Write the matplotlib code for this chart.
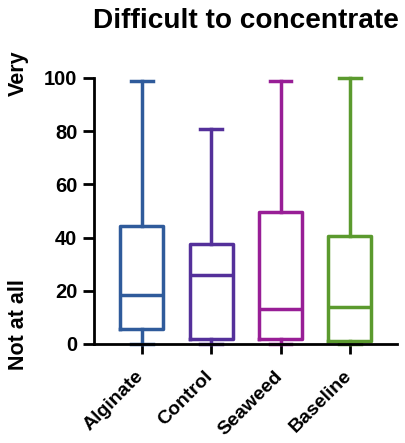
import matplotlib.pyplot as plt
import matplotlib.transforms as mtransforms

plt.rcParams['font.family'] = ['Liberation Sans', 'DejaVu Sans']
plt.rcParams['font.weight'] = 'bold'

# Gruppen und Boxplot-Kennwerte (Min, Q1, Median, Q3, Max)
groups = ['Alginate', 'Control', 'Seaweed', 'Baseline']
whislo = [0, 0, 0, 0]
q1 = [5.5, 2, 2, 1]
med = [18.5, 26, 13, 14]
q3 = [44.5, 37.5, 49.5, 40.5]
whishi = [99, 81, 99, 100]
colors = ['#2f5b9b', '#54309a', '#981e96', '#5b9a2e']

stats = []
for i, g in enumerate(groups):
    stats.append({'label': g, 'whislo': whislo[i], 'q1': q1[i], 'med': med[i],
                  'q3': q3[i], 'whishi': whishi[i], 'fliers': []})

fig = plt.figure(figsize=(4.06, 4.43), dpi=100)
ax = fig.add_axes([0.2315, 0.2235, 0.7465, 0.6005])

bp = ax.bxp(stats, positions=[1, 2, 3, 4], widths=0.62, showfliers=False,
            patch_artist=False)
lw = 2.5
for i, c in enumerate(colors):
    bp['boxes'][i].set(color=c, linewidth=lw, clip_on=False)
    bp['medians'][i].set(color=c, linewidth=lw, clip_on=False)
    for k in (2 * i, 2 * i + 1):
        bp['whiskers'][k].set(color=c, linewidth=lw, clip_on=False)
        bp['caps'][k].set(color=c, linewidth=lw, clip_on=False)

ax.set_xlim(0.31, 4.68)
ax.set_ylim(0, 100)
ax.set_yticks([0, 20, 40, 60, 80, 100])
ax.set_xticks([1, 2, 3, 4])
ax.set_xticklabels(groups, rotation=45, ha='right', rotation_mode='anchor',
                   fontsize=14, fontweight='bold')
ax.tick_params(axis='y', labelsize=14.5, width=2, length=8, pad=4)
ax.tick_params(axis='x', width=2, length=7, pad=5)

# x-Beschriftungen etwas nach links unten schieben
shift = mtransforms.ScaledTranslation(-7 / 100, -7 / 100, fig.dpi_scale_trans)
for lab in ax.get_xticklabels():
    lab.set_transform(lab.get_transform() + shift)

for s in ['top', 'right']:
    ax.spines[s].set_visible(False)
for s in ['left', 'bottom']:
    ax.spines[s].set_linewidth(2)

# Titel und zweiteilige y-Beschriftung
fig.text(0.606, 0.953, 'Difficult to concentrate', ha='center', va='center',
         fontsize=20.2, fontweight='bold')
fig.text(0.045, 0.834, 'Very', rotation=90, ha='center', va='center',
         fontsize=15.5, fontweight='bold')
fig.text(0.045, 0.267, 'Not at all', rotation=90, ha='center', va='center',
         fontsize=15.5, fontweight='bold')

fig.savefig('out.png', dpi=100)
